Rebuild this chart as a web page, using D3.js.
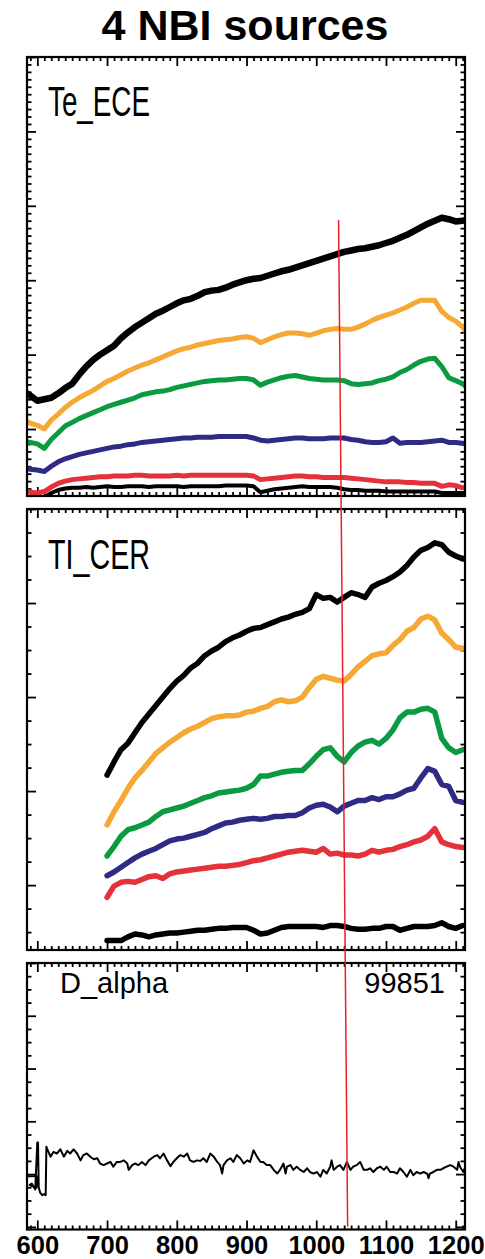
<!DOCTYPE html>
<html>
<head>
<meta charset="utf-8">
<script src="https://cdn.jsdelivr.net/npm/d3@7"></script>
<style>
  html, body { margin: 0; padding: 0; background: #fff; }
  svg { display: block; }
</style>
</head>
<body>
<svg id="chart" width="485" height="1259"></svg>
<script>
// ---------------- data ----------------
// Electron temperature (ECE channels), time in ms
const teTime = [585, 590,
  600, 610, 620, 630, 640, 650, 660, 670, 680, 690,
  700, 710, 720, 730, 740, 750, 760, 770, 780, 790,
  800, 810, 820, 830, 840, 850, 860, 870, 880, 890,
  900, 910, 920, 930, 940, 950, 960, 970, 980, 990,
  1000, 1010, 1020, 1030, 1040, 1050, 1060, 1070, 1080, 1090,
  1100, 1110, 1120, 1130, 1140, 1150, 1160, 1170, 1180, 1190,
  1200, 1210, 1213];
const teCh1 = [1.48, 1.45,
  1.38, 1.40, 1.42, 1.48, 1.55, 1.61, 1.73, 1.84, 1.93, 2.00,
  2.06, 2.12, 2.22, 2.30, 2.37, 2.43, 2.49, 2.55, 2.59, 2.64,
  2.69, 2.73, 2.75, 2.79, 2.84, 2.86, 2.87, 2.90, 2.94, 2.97,
  3.00, 3.02, 3.03, 3.06, 3.09, 3.12, 3.14, 3.17, 3.20, 3.23,
  3.26, 3.29, 3.32, 3.35, 3.38, 3.40, 3.42, 3.43, 3.45, 3.47,
  3.50, 3.53, 3.57, 3.61, 3.66, 3.71, 3.76, 3.80, 3.84, 3.82,
  3.79, 3.80, 3.81];
const teCh2 = [1.10, 1.08,
  1.05, 1.00, 1.12, 1.20, 1.29, 1.36, 1.42, 1.47, 1.52, 1.58,
  1.64, 1.68, 1.73, 1.78, 1.82, 1.86, 1.89, 1.93, 1.97, 2.01,
  2.05, 2.08, 2.10, 2.13, 2.15, 2.17, 2.19, 2.20, 2.21, 2.23,
  2.24, 2.22, 2.16, 2.20, 2.24, 2.27, 2.29, 2.29, 2.28, 2.26,
  2.29, 2.32, 2.34, 2.35, 2.34, 2.34, 2.37, 2.41, 2.46, 2.50,
  2.53, 2.56, 2.60, 2.64, 2.69, 2.73, 2.73, 2.73, 2.58, 2.50,
  2.45, 2.37, 2.33];
const teCh3 = [0.83, 0.82,
  0.80, 0.74, 0.86, 0.95, 1.04, 1.09, 1.14, 1.18, 1.22, 1.26,
  1.30, 1.33, 1.36, 1.39, 1.42, 1.46, 1.48, 1.50, 1.51, 1.53,
  1.56, 1.58, 1.60, 1.62, 1.64, 1.65, 1.66, 1.66, 1.67, 1.68,
  1.68, 1.66, 1.59, 1.63, 1.66, 1.69, 1.71, 1.72, 1.70, 1.68,
  1.67, 1.66, 1.66, 1.66, 1.65, 1.61, 1.60, 1.61, 1.62, 1.65,
  1.67, 1.70, 1.76, 1.80, 1.86, 1.91, 1.94, 1.95, 1.84, 1.69,
  1.65, 1.61, 1.58];
const teCh4 = [0.47, 0.46,
  0.45, 0.43, 0.50, 0.56, 0.60, 0.63, 0.66, 0.68, 0.70, 0.72,
  0.74, 0.76, 0.77, 0.79, 0.80, 0.82, 0.83, 0.84, 0.85, 0.86,
  0.87, 0.88, 0.88, 0.89, 0.89, 0.89, 0.90, 0.90, 0.90, 0.90,
  0.90, 0.88, 0.85, 0.84, 0.85, 0.86, 0.87, 0.88, 0.88, 0.87,
  0.87, 0.87, 0.88, 0.88, 0.88, 0.86, 0.85, 0.83, 0.82, 0.82,
  0.83, 0.88, 0.81, 0.82, 0.82, 0.82, 0.83, 0.84, 0.85, 0.82,
  0.82, 0.81, 0.80];
const teCh5 = [0.16, 0.15,
  0.14, 0.16, 0.22, 0.27, 0.30, 0.32, 0.33, 0.34, 0.35, 0.36,
  0.36, 0.37, 0.37, 0.37, 0.38, 0.38, 0.37, 0.37, 0.37, 0.37,
  0.38, 0.37, 0.38, 0.38, 0.38, 0.38, 0.38, 0.38, 0.38, 0.38,
  0.38, 0.37, 0.32, 0.33, 0.34, 0.35, 0.36, 0.37, 0.37, 0.36,
  0.36, 0.35, 0.35, 0.35, 0.35, 0.34, 0.33, 0.32, 0.31, 0.30,
  0.29, 0.29, 0.29, 0.28, 0.28, 0.27, 0.27, 0.27, 0.23, 0.25,
  0.24, 0.21, 0.21];
const teCh6 = [0.07, 0.06,
  0.06, 0.08, 0.14, 0.18, 0.20, 0.21, 0.21, 0.22, 0.21, 0.22,
  0.23, 0.22, 0.22, 0.23, 0.23, 0.23, 0.22, 0.23, 0.23, 0.23,
  0.23, 0.22, 0.23, 0.23, 0.23, 0.23, 0.23, 0.24, 0.24, 0.24,
  0.24, 0.23, 0.15, 0.17, 0.19, 0.20, 0.21, 0.22, 0.23, 0.22,
  0.22, 0.22, 0.22, 0.21, 0.19, 0.18, 0.18, 0.17, 0.17, 0.17,
  0.16, 0.16, 0.16, 0.16, 0.16, 0.16, 0.16, 0.16, 0.14, 0.14,
  0.14, 0.14, 0.14];

// Ion temperature (CER chords)
const cerTime = [
  700, 710, 720, 730, 740, 750, 760, 770, 780, 790,
  800, 810, 820, 830, 840, 850, 860, 870, 880, 890,
  900, 910, 920, 930, 940, 950, 960, 970, 980, 990,
  1000, 1010, 1020, 1030, 1040, 1050, 1060, 1070, 1080, 1090,
  1100, 1110, 1120, 1130, 1140, 1150, 1160, 1170, 1180, 1190,
  1200, 1210];
const cerCh1 = [
  2.17, 2.31, 2.44, 2.51, 2.62, 2.73, 2.82, 2.91, 3.00, 3.09,
  3.17, 3.23, 3.31, 3.36, 3.44, 3.49, 3.53, 3.59, 3.63, 3.66,
  3.70, 3.73, 3.74, 3.77, 3.80, 3.83, 3.85, 3.88, 3.90, 3.94,
  4.09, 4.05, 4.06, 4.01, 4.06, 4.11, 4.09, 4.06, 4.17, 4.21,
  4.24, 4.28, 4.33, 4.40, 4.49, 4.56, 4.59, 4.64, 4.62, 4.54,
  4.50, 4.47];
const cerCh2 = [
  1.64, 1.78, 1.90, 2.03, 2.14, 2.22, 2.31, 2.40, 2.46, 2.52,
  2.57, 2.62, 2.66, 2.69, 2.73, 2.77, 2.79, 2.80, 2.80, 2.81,
  2.84, 2.85, 2.88, 2.90, 2.95, 2.97, 2.95, 2.96, 3.00, 3.10,
  3.19, 3.22, 3.20, 3.18, 3.17, 3.24, 3.32, 3.38, 3.44, 3.46,
  3.47, 3.55, 3.61, 3.70, 3.74, 3.83, 3.86, 3.82, 3.68, 3.61,
  3.53, 3.52];
const cerCh3 = [
  1.31, 1.41, 1.52, 1.59, 1.61, 1.64, 1.67, 1.73, 1.78, 1.80,
  1.82, 1.84, 1.87, 1.90, 1.93, 1.95, 1.98, 1.99, 2.00, 2.01,
  2.03, 2.07, 2.16, 2.16, 2.18, 2.20, 2.21, 2.22, 2.22, 2.29,
  2.37, 2.44, 2.46, 2.37, 2.31, 2.41, 2.48, 2.52, 2.54, 2.50,
  2.56, 2.65, 2.78, 2.84, 2.84, 2.87, 2.88, 2.84, 2.56, 2.46,
  2.41, 2.44];
const cerCh4 = [
  1.10, 1.14, 1.19, 1.24, 1.29, 1.33, 1.36, 1.39, 1.43, 1.47,
  1.49, 1.50, 1.52, 1.54, 1.56, 1.60, 1.63, 1.66, 1.67, 1.69,
  1.70, 1.71, 1.70, 1.71, 1.73, 1.73, 1.74, 1.74, 1.77, 1.82,
  1.85, 1.86, 1.83, 1.78, 1.84, 1.87, 1.90, 1.90, 1.93, 1.91,
  1.94, 1.94, 1.97, 2.01, 2.03, 2.14, 2.24, 2.21, 2.07, 2.05,
  1.90, 1.88];
const cerCh5 = [
  0.87, 0.99, 1.03, 1.04, 1.03, 1.06, 1.09, 1.10, 1.07, 1.12,
  1.14, 1.15, 1.16, 1.17, 1.18, 1.19, 1.20, 1.20, 1.21, 1.22,
  1.24, 1.26, 1.27, 1.29, 1.31, 1.33, 1.35, 1.36, 1.37, 1.36,
  1.35, 1.39, 1.33, 1.34, 1.32, 1.32, 1.31, 1.33, 1.37, 1.35,
  1.37, 1.38, 1.41, 1.43, 1.46, 1.48, 1.52, 1.60, 1.46, 1.43,
  1.41, 1.40];
const cerCh6 = [
  0.41, 0.41, 0.41, 0.45, 0.48, 0.47, 0.45, 0.47, 0.48, 0.49,
  0.49, 0.50, 0.51, 0.52, 0.52, 0.53, 0.54, 0.54, 0.55, 0.55,
  0.55, 0.52, 0.48, 0.49, 0.52, 0.55, 0.56, 0.56, 0.56, 0.56,
  0.56, 0.55, 0.57, 0.57, 0.56, 0.54, 0.53, 0.53, 0.54, 0.54,
  0.56, 0.56, 0.52, 0.54, 0.56, 0.56, 0.56, 0.57, 0.60, 0.56,
  0.54, 0.57];

// D-alpha emission
const daTime = [585, 599, 599, 589, 592, 595, 597, 600, 601, 602, 604, 607, 610, 612, 613, 614,
  619, 623, 628, 633, 638, 643, 647, 652, 657, 662, 666, 671, 676, 681, 686, 690,
  695, 700, 705, 709, 714, 719, 724, 729, 731, 736, 740, 745, 750, 755, 760, 764,
  767, 772, 776, 781, 786, 791, 795, 800, 805, 810, 815, 819, 824, 829, 834, 838,
  843, 848, 853, 858, 862, 865, 867, 872, 877, 881, 886, 891, 896, 901, 905, 910,
  915, 920, 924, 929, 934, 939, 944, 948, 953, 956, 958, 963, 967, 972, 977, 982,
  987, 991, 996, 1001, 1006, 1010, 1015, 1020, 1022, 1025, 1030, 1034, 1039, 1044,
  1049, 1053, 1058, 1063, 1068, 1073, 1077, 1082, 1087, 1092, 1097, 1101, 1106,
  1111, 1116, 1120, 1125, 1130, 1135, 1139, 1144, 1149, 1154, 1159, 1161, 1163,
  1168, 1173, 1178, 1182, 1187, 1192, 1197, 1202, 1204, 1206, 1211, 1213];
const daValue = [0.96, 0.96, 0.74, 0.79, 0.82, 0.75, 0.71, 1.60, 1.60, 0.75, 0.65, 0.60, 0.62, 0.60, 1.52, 1.48,
  1.33, 1.42, 1.39, 1.47, 1.33, 1.44, 1.39, 1.47, 1.39, 1.26, 1.36, 1.39, 1.33, 1.28, 1.30, 1.20,
  1.17, 1.20, 1.23, 1.14, 1.23, 1.23, 1.26, 1.20, 1.08, 1.17, 1.20, 1.17, 1.23, 1.17, 1.26, 1.30,
  1.33, 1.36, 1.30, 1.39, 1.26, 1.15, 1.23, 1.30, 1.36, 1.33, 1.39, 1.26, 1.23, 1.26, 1.25, 1.30,
  1.23, 1.39, 1.33, 1.23, 1.17, 1.01, 1.17, 1.26, 1.30, 1.23, 1.36, 1.30, 1.20, 1.26, 1.23, 1.45,
  1.33, 1.23, 1.23, 1.17, 1.17, 1.08, 1.01, 1.08, 1.20, 1.01, 1.14, 1.17, 1.08, 1.14, 1.08, 1.04,
  1.11, 1.04, 1.01, 1.04, 0.95, 1.08, 1.01, 1.14, 1.26, 1.08, 1.14, 1.17, 1.08, 1.23,
  1.08, 1.14, 1.17, 1.23, 1.08, 1.08, 1.11, 1.04, 1.11, 1.14, 1.08, 1.14, 1.04,
  1.04, 1.01, 1.11, 1.04, 0.95, 1.08, 0.98, 1.04, 1.01, 1.04, 1.01, 0.92, 1.01,
  1.04, 1.08, 1.08, 1.11, 1.14, 1.17, 1.14, 1.08, 1.23, 1.14, 1.04, 1.11];

// Time-base marker (start and end of the drawn cursor)
const markerTime = [1032, 1045];

// Axis tick values
const xMajorTicks = [600, 700, 800, 900, 1000, 1100, 1200];
const xTickLabels = ["600", "700", "800", "900", "1000", "1100", "1200"];

// Trace colours
const channelColors = ["#000000", "#f6a834", "#0a9a40", "#2f2b85", "#e5323a", "#000000"];

// ---------------- layout ----------------
const svg = d3.select("#chart");
const W = 485;
const left = 27, right = 465;
const x = d3.scaleLinear().domain([585.2, 1213.3]).range([left, right]);

const panels = [
  { top: 57, bottom: 496, domain: [0.1, 6], major: [1, 2, 3, 4, 5, 6], minorStep: 0.1 },
  { top: 509, bottom: 950, domain: [0.31, 5], major: [1, 2, 3, 4, 5], minorStep: 0.25 },
  { top: 963, bottom: 1229.5, domain: [-0.05, 5], major: [0, 1, 2, 3, 4, 5], minorStep: 0.25 }
];
panels.forEach(p => { p.y = d3.scaleLinear().domain(p.domain).range([p.bottom, p.top]); });

svg.append("rect").attr("width", W).attr("height", 1259).attr("fill", "#fff");

// Title
svg.append("text")
  .attr("x", 245).attr("y", 40)
  .attr("text-anchor", "middle")
  .attr("font-family", "Liberation Sans, Arial, sans-serif")
  .attr("font-weight", "bold")
  .attr("font-size", 43)
  .text("4 NBI sources");

const xMinor = d3.range(590, 1213, 10).filter(v => v % 100 !== 0);

function styleAxis(g, w) {
  g.select(".domain").remove();
  g.selectAll(".tick line").attr("stroke", "#000").attr("stroke-width", w);
}

function drawFrame(p, i) {
  const g = svg.append("g").attr("class", "panel-" + i);
  const lo = p.domain[0], hi = p.domain[1];
  const yMinor = d3.range(Math.ceil(lo / p.minorStep) * p.minorStep, hi + 1e-6, p.minorStep)
    .map(v => Math.round(v * 100) / 100)
    .filter(v => Math.abs(v - Math.round(v)) > 1e-6 && v > lo && v < hi);

  // x ticks, top and bottom (pointing inward)
  g.append("g").attr("transform", `translate(0,${p.top})`)
    .call(d3.axisTop(x).tickValues(xMinor).tickSize(-4).tickFormat("")).call(styleAxis, 1.8);
  g.append("g").attr("transform", `translate(0,${p.top})`)
    .call(d3.axisTop(x).tickValues(xMajorTicks).tickSize(-9).tickFormat("")).call(styleAxis, 1.8);
  g.append("g").attr("transform", `translate(0,${p.bottom})`)
    .call(d3.axisBottom(x).tickValues(xMinor).tickSize(-4).tickFormat("")).call(styleAxis, 1.8);
  g.append("g").attr("transform", `translate(0,${p.bottom})`)
    .call(d3.axisBottom(x).tickValues(xMajorTicks).tickSize(-9).tickFormat("")).call(styleAxis, 1.8);

  // y ticks, left and right
  g.append("g").attr("transform", `translate(${left},0)`)
    .call(d3.axisLeft(p.y).tickValues(yMinor).tickSize(-4.5).tickFormat("")).call(styleAxis, 1.8);
  g.append("g").attr("transform", `translate(${left},0)`)
    .call(d3.axisLeft(p.y).tickValues(p.major).tickSize(-9).tickFormat("")).call(styleAxis, 1.8);
  g.append("g").attr("transform", `translate(${right},0)`)
    .call(d3.axisRight(p.y).tickValues(yMinor).tickSize(-4.5).tickFormat("")).call(styleAxis, 1.8);
  g.append("g").attr("transform", `translate(${right},0)`)
    .call(d3.axisRight(p.y).tickValues(p.major).tickSize(-9).tickFormat("")).call(styleAxis, 1.8);

  // clip region
  svg.append("clipPath").attr("id", "clip-" + i)
    .append("rect").attr("x", left).attr("y", p.top)
    .attr("width", right - left).attr("height", p.bottom - p.top);
  p.plot = svg.append("g").attr("clip-path", `url(#clip-${i})`);
}
panels.forEach(drawFrame);

function drawTrace(p, times, values, color, width) {
  const pts = times.map((t, k) => [t, values[k]]);
  const line = d3.line().x(d => x(d[0])).y(d => p.y(d[1]));
  p.plot.append("path").datum(pts)
    .attr("d", line)
    .attr("fill", "none")
    .attr("stroke", color)
    .attr("stroke-width", width)
    .attr("stroke-linejoin", "round")
    .attr("stroke-linecap", "round");
}

// Panel 1: Te_ECE (lowest channel drawn first)
const teSeries = [teCh1, teCh2, teCh3, teCh4, teCh5, teCh6];
const teWidths = [6.5, 5, 5, 5, 5, 4];
for (let k = teSeries.length - 1; k >= 0; k--) {
  drawTrace(panels[0], teTime, teSeries[k], channelColors[k], teWidths[k]);
}

// Panel 2: TI_CER
const cerSeries = [cerCh1, cerCh2, cerCh3, cerCh4, cerCh5, cerCh6];
cerSeries.forEach((s, k) => drawTrace(panels[1], cerTime, s, channelColors[k], 5.5));

// Panel 3: D_alpha
drawTrace(panels[2], daTime, daValue, "#000", 2);

// Frames on top of traces
panels.forEach(p => {
  svg.append("rect")
    .attr("x", left).attr("y", p.top)
    .attr("width", right - left).attr("height", p.bottom - p.top)
    .attr("fill", "none").attr("stroke", "#000").attr("stroke-width", 2.2);
});

// Panel labels
const condensed = (sel, len) => sel
  .attr("font-family", "Liberation Sans, Arial, sans-serif")
  .attr("font-size", 42)
  .attr("textLength", len)
  .attr("lengthAdjust", "spacingAndGlyphs");
svg.append("text").attr("x", 48).attr("y", 116).call(condensed, 102).text("Te_ECE");
svg.append("text").attr("x", 48).attr("y", 569).call(condensed, 102).text("TI_CER");
svg.append("text").attr("x", 60).attr("y", 993)
  .attr("font-family", "Liberation Sans, Arial, sans-serif").attr("font-size", 29)
  .text("D_alpha");
svg.append("text").attr("x", 445).attr("y", 993).attr("text-anchor", "end")
  .attr("font-family", "Liberation Sans, Arial, sans-serif").attr("font-size", 29)
  .text("99851");

// Bottom time axis labels
const xLabelAxis = svg.append("g")
  .attr("transform", `translate(0,${panels[2].bottom})`)
  .call(d3.axisBottom(x).tickValues(xMajorTicks).tickSize(0).tickPadding(6)
    .tickFormat((d, i) => xTickLabels[i]));
xLabelAxis.select(".domain").remove();
xLabelAxis.selectAll("text")
  .attr("font-family", "Liberation Sans, Arial, sans-serif")
  .attr("font-weight", "bold")
  .attr("font-size", 25.5)
  .attr("fill", "#000");

// Time cursor spanning all three panels
svg.append("line")
  .attr("x1", x(markerTime[0])).attr("y1", panels[0].y(3.81))
  .attr("x2", x(markerTime[1])).attr("y2", panels[2].y(0))
  .attr("stroke", "#e8202a").attr("stroke-width", 1.5);
</script>
</body>
</html>
